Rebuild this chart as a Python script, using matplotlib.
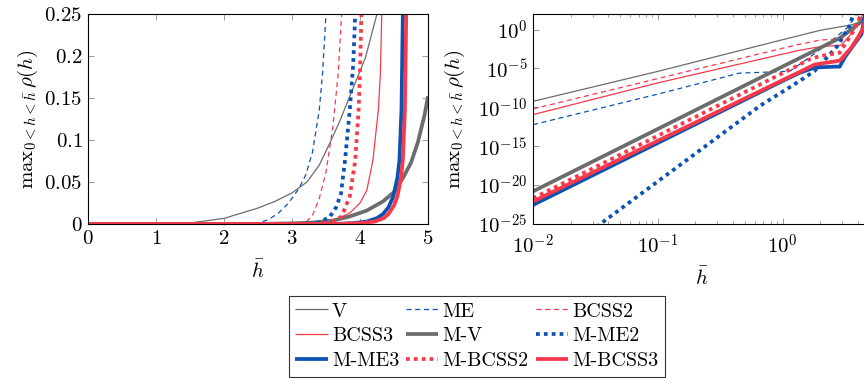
import numpy as np
import matplotlib
matplotlib.use("Agg")
import matplotlib.pyplot as plt
from matplotlib.ticker import FixedLocator, LogLocator, NullFormatter

plt.rcParams.update({
    "font.family": "serif",
    "font.serif": ["cmr10", "DejaVu Serif"],
    "mathtext.fontset": "cm",
    "axes.formatter.use_mathtext": True,
    "font.size": 15,
})

GRAY = "#6c6c6c"
BLUE = "#0c52b2"
RED = "#f7394b"

THIN = 0.9
THICK = 2.7
DASHED = (4, 3)
DOTTED = (1, 1.1)

# ---- linear view: max rho(h) for 0 < h < hbar, hbar in [0, 5] ----
lin_h_V = [0, 1.0, 1.5, 2.0, 2.5, 2.75, 3.0, 3.22, 3.4, 3.56, 3.7, 3.83, 3.95, 4.08, 4.2, 4.25, 4.35]
lin_V = [0, 0.0001, 0.0012, 0.0067, 0.019, 0.027, 0.037, 0.05, 0.07, 0.097, 0.122, 0.148, 0.172, 0.198, 0.235, 0.25, 0.29]

lin_h_ME = [0, 2.3, 2.5, 2.65, 2.8, 2.95, 3.1, 3.2, 3.3, 3.4, 3.45, 3.5, 3.53]
lin_ME = [0, 0, 0.001, 0.005, 0.013, 0.025, 0.042, 0.058, 0.085, 0.135, 0.18, 0.25, 0.32]

lin_h_BCSS2 = [0, 3.1, 3.2, 3.3, 3.4, 3.5, 3.6, 3.68, 3.73, 3.76]
lin_BCSS2 = [0, 0, 0.002, 0.010, 0.030, 0.062, 0.115, 0.18, 0.25, 0.3]

lin_h_BCSS3 = [0, 3.3, 3.6, 3.85, 4.0, 4.1, 4.19, 4.27, 4.3, 4.32, 4.34]
lin_BCSS3 = [0, 0, 0.004, 0.013, 0.025, 0.04, 0.076, 0.136, 0.18, 0.25, 0.3]

lin_h_MV = [0, 2.5, 3.0, 3.3, 3.6, 3.85, 4.1, 4.34, 4.5, 4.64, 4.75, 4.85, 4.95, 5.0]
lin_MV = [0, 0, 0.0008, 0.0017, 0.004, 0.009, 0.016, 0.027, 0.038, 0.056, 0.073, 0.097, 0.13, 0.152]

lin_h_MME2 = [0, 3.2, 3.4, 3.55, 3.65, 3.72, 3.78, 3.85, 3.9, 3.93, 3.96]
lin_MME2 = [0, 0, 0.002, 0.008, 0.02, 0.036, 0.076, 0.136, 0.19, 0.25, 0.3]

lin_h_MME3 = [0, 3.6, 3.9, 4.1, 4.25, 4.34, 4.42, 4.49, 4.55, 4.58, 4.61, 4.63, 4.64]
lin_MME3 = [0, 0, 0.001, 0.003, 0.007, 0.012, 0.02, 0.033, 0.055, 0.076, 0.136, 0.25, 0.3]

lin_h_MBCSS2 = [0, 3.4, 3.6, 3.73, 3.85, 3.93, 3.98, 4.0, 4.02, 4.04]
lin_MBCSS2 = [0, 0, 0.003, 0.009, 0.033, 0.076, 0.136, 0.18, 0.25, 0.3]

lin_h_MBCSS3 = [0, 3.7, 4.0, 4.22, 4.35, 4.42, 4.5, 4.55, 4.6, 4.63, 4.66, 4.68, 4.69]
lin_MBCSS3 = [0, 0, 0.001, 0.003, 0.007, 0.012, 0.022, 0.033, 0.053, 0.076, 0.136, 0.25, 0.3]

# ---- log-log view ----
log_h_V = [0.01, 0.1, 1.0, 2.0, 3.55, 5.0]
log_V = [5.9e-10, 4.2e-6, 5.0e-2, 0.8, 4.0, 25.0]

log_h_ME = [0.01, 0.1, 0.25, 0.45, 1.0, 1.14, 1.6, 2.45, 3.3, 4.0]
log_ME = [5.9e-13, 5.0e-9, 2.2e-7, 2.5e-6, 4.0e-6, 4.5e-6, 2.0e-4, 3.5e-2, 1.8, 160.0]

log_h_BCSS2 = [0.01, 0.1, 1.0, 1.37, 2.0, 2.95, 3.67, 4.27]
log_BCSS2 = [6.2e-11, 5.0e-7, 4.0e-3, 1.3e-2, 4.5e-2, 6.3e-2, 1.1, 130.0]

log_h_BCSS3 = [0.01, 0.1, 1.0, 1.37, 2.0, 2.95, 3.6, 4.1, 4.45]
log_BCSS3 = [1.15e-11, 1.4e-7, 7.0e-4, 2.2e-3, 6.3e-3, 1.0e-2, 0.4, 10.0, 160.0]

log_h_MV = [0.01, 1.0, 1.37, 2.86, 4.13, 5.0]
log_MV = [1.55e-21, 1.8e-5, 2.2e-4, 0.08, 7.2, 200.0]

log_h_MME2 = [0.01, 0.655, 1.37, 1.8, 2.75, 3.44, 3.7]
log_MME2 = [4.0e-32, 1.5e-10, 2.5e-7, 4.8e-6, 7.9e-3, 3.2, 160.0]

log_h_MME3 = [0.01, 1.0, 1.37, 1.8, 2.6, 2.86, 3.13, 4.27, 4.6]
log_MME3 = [2.8e-23, 2.5e-7, 2.8e-6, 1.3e-5, 1.7e-5, 1.7e-5, 2.5e-4, 0.25, 160.0]

log_h_MBCSS2 = [0.01, 1.0, 1.37, 1.6, 2.0, 2.85, 3.77, 4.3]
log_MBCSS2 = [2.0e-22, 2.5e-6, 3.2e-5, 1.3e-4, 4.0e-4, 1.0e-3, 1.1, 160.0]

log_h_MBCSS3 = [0.01, 1.0, 1.37, 1.8, 2.6, 2.86, 3.55, 4.0, 4.42, 4.7]
log_MBCSS3 = [7.9e-23, 3.2e-7, 3.6e-6, 3.2e-5, 7.9e-5, 1.0e-4, 5.0e-3, 0.1, 1.6, 160.0]

# name, style, linear data, log data
SERIES = [
    ("V",       dict(color=GRAY, lw=THIN),                   lin_h_V, lin_V, log_h_V, log_V),
    ("ME",      dict(color=BLUE, lw=THIN, dashes=DASHED),    lin_h_ME, lin_ME, log_h_ME, log_ME),
    ("BCSS2",   dict(color=RED, lw=THIN, dashes=DASHED),     lin_h_BCSS2, lin_BCSS2, log_h_BCSS2, log_BCSS2),
    ("BCSS3",   dict(color=RED, lw=THIN),                    lin_h_BCSS3, lin_BCSS3, log_h_BCSS3, log_BCSS3),
    ("M-V",     dict(color=GRAY, lw=THICK),                  lin_h_MV, lin_MV, log_h_MV, log_MV),
    ("M-ME2",   dict(color=BLUE, lw=THICK, dashes=DOTTED),   lin_h_MME2, lin_MME2, log_h_MME2, log_MME2),
    ("M-ME3",   dict(color=BLUE, lw=THICK),                  lin_h_MME3, lin_MME3, log_h_MME3, log_MME3),
    ("M-BCSS2", dict(color=RED, lw=THICK, dashes=DOTTED),    lin_h_MBCSS2, lin_MBCSS2, log_h_MBCSS2, log_MBCSS2),
    ("M-BCSS3", dict(color=RED, lw=THICK),                   lin_h_MBCSS3, lin_MBCSS3, log_h_MBCSS3, log_MBCSS3),
]

W, H = 864, 379
fig = plt.figure(figsize=(W / 100, H / 100), dpi=100)
ax1 = fig.add_axes([88 / W, 1 - 224 / H, 340 / W, 210 / H])
ax2 = fig.add_axes([533 / W, 1 - 224 / H, 337 / W, 210 / H])

handles = {}
for name, style, hl, yl, hg, yg in SERIES:
    line, = ax1.plot(hl, yl, label=name, solid_capstyle="butt", dash_capstyle="butt", **style)
    ax2.plot(hg, yg, solid_capstyle="butt", dash_capstyle="butt", **style)
    handles[name] = line

ylab = r"$\mathrm{max}_{0<h<\bar{h}}\,\rho(h)$"

# linear panel
ax1.set_xlim(0, 5)
ax1.set_ylim(0, 0.25)
ax1.set_xticks(range(6))
ax1.set_xticklabels([f"${i}$" for i in range(6)])
yt = [0, 0.05, 0.1, 0.15, 0.2, 0.25]
ax1.set_yticks(yt)
ax1.set_yticklabels(["$0$", "$0.05$", "$0.1$", "$0.15$", "$0.2$", "$0.25$"])

# log-log panel
ax2.set_xscale("log")
ax2.set_yscale("log")
ax2.set_xlim(1e-2, 5)
ax2.set_ylim(1e-25, 1e2)
ax2.xaxis.set_major_locator(FixedLocator([1e-2, 1e-1, 1e0]))
ax2.xaxis.set_minor_locator(LogLocator(base=10, subs=np.arange(2, 10)))
ax2.xaxis.set_minor_formatter(NullFormatter())
ax2.set_xticklabels([r"$10^{-2}$", r"$10^{-1}$", r"$10^{0}$"])
ax2.yaxis.set_major_locator(FixedLocator([1e-25, 1e-20, 1e-15, 1e-10, 1e-5, 1e0]))
ax2.yaxis.set_minor_locator(FixedLocator([]))
ax2.set_yticklabels([r"$10^{-25}$", r"$10^{-20}$", r"$10^{-15}$",
                     r"$10^{-10}$", r"$10^{-5}$", r"$10^{0}$"])

for ax in (ax1, ax2):
    ax.tick_params(which="both", direction="in", top=True, right=True,
                   color="#8a8a8a", width=0.6, labelsize=15)
    ax.tick_params(which="major", length=4.5, pad=4)
    ax.tick_params(which="minor", length=2.5)
    for sp in ax.spines.values():
        sp.set_linewidth(0.8)
ax2.tick_params(axis="x", which="major", pad=7)

ax1.set_xlabel(r"$\bar{h}$", labelpad=9)
ax1.set_ylabel(ylab, labelpad=3)
ax2.set_xlabel(r"$\bar{h}$", labelpad=6)
ax2.set_ylabel(ylab, labelpad=8)

order = ["V", "BCSS3", "M-ME3", "ME", "M-V", "M-BCSS2", "BCSS2", "M-ME2", "M-BCSS3"]
leg = fig.legend([handles[k] for k in order], order, ncol=3,
                 loc="upper left", bbox_to_anchor=(289 / W, 1 - 296 / H),
                 borderaxespad=0, frameon=True, fancybox=False,
                 edgecolor="black", handlelength=1.6, handletextpad=0.22,
                 columnspacing=0.33, labelspacing=0.34, borderpad=0.32,
                 fontsize=14.5)
leg.get_frame().set_linewidth(0.8)

fig.savefig("out.png", dpi=100)
